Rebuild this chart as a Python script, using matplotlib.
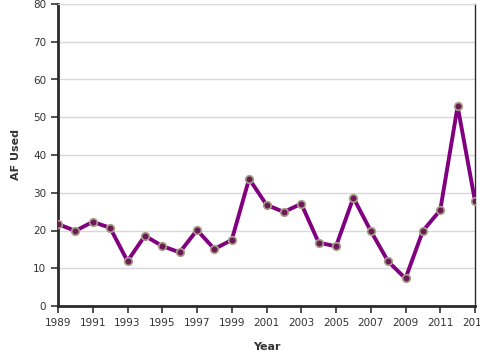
import numpy as np
import matplotlib.pyplot as plt

years = list(range(1989, 2014))
af_used = [21.7, 19.9, 22.3, 20.7, 11.9, 18.6, 15.9, 14.2, 20.1, 15.1,
           17.5, 33.7, 26.8, 24.9, 27.1, 16.8, 15.8, 28.7, 19.9, 11.8,
           7.3, 19.9, 25.4, 52.9, 27.8]
x_ticks = list(range(1989, 2014, 2))
y_ticks = list(range(0, 81, 10))

fig = plt.figure(figsize=(4.8, 3.6), dpi=100)
ax = fig.add_axes([58 / 480, 54 / 360, 417 / 480, 302 / 360])

ax.plot(years, af_used, color="#800080", linewidth=2.8, zorder=3,
        marker="o", markersize=5.5, markerfacecolor="#6b1a55",
        markeredgecolor="#a8a088", markeredgewidth=1.2)

ax.set_xlim(1989, 2013)
ax.set_ylim(0, 80)
ax.set_xticks(x_ticks)
ax.set_yticks(y_ticks)
ax.yaxis.grid(True, color="#d8d8d8", linewidth=1)
ax.set_axisbelow(True)

for side in ["left", "bottom"]:
    ax.spines[side].set_linewidth(2)
    ax.spines[side].set_color("#2a2a2a")
ax.spines["right"].set_linewidth(1)
ax.spines["right"].set_color("#2a2a2a")
ax.spines["top"].set_color("#d8d8d8")

ax.tick_params(axis="both", labelsize=7.5, colors="#333333", length=5, width=1.2)
ax.tick_params(axis="x", pad=4)
ax.set_xlabel("Year", fontsize=8, fontweight="bold", color="#333333", labelpad=10)
ax.set_ylabel("AF Used", fontsize=8, fontweight="bold", color="#333333", labelpad=9)

fig.savefig("out.png", dpi=100)
